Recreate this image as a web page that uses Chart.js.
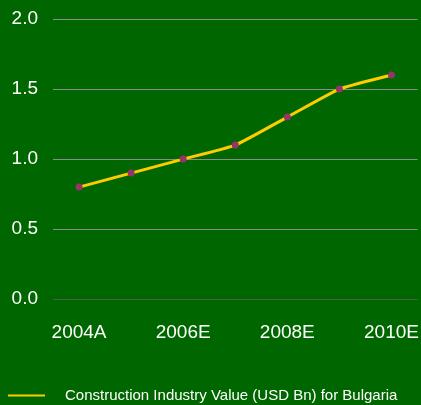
<!DOCTYPE html>
<html>
<head>
<meta charset="utf-8">
<script src="https://cdn.jsdelivr.net/npm/chart.js@4.4.0/dist/chart.umd.min.js"></script>
<style>
html,body{margin:0;padding:0;background:#006600;}
#wrap{width:421px;height:405px;position:relative;}
</style>
</head>
<body>
<div id="wrap"><canvas id="c" width="421" height="405"></canvas></div>
<script>
const categories = ["2004A","2005E","2006E","2007E","2008E","2009E","2010E"];
const values = [0.8, 0.9, 1.0, 1.1, 1.3, 1.5, 1.6];
const seriesLabel = "Construction Industry Value (USD Bn) for Bulgaria";
const yTicks = [0, 0.5, 1.0, 1.5, 2.0];

const FONT = "'Liberation Sans', Arial, sans-serif";

const bgPlugin = {
  id: 'bg',
  beforeDraw(chart) {
    const ctx = chart.ctx;
    ctx.save();
    ctx.fillStyle = '#006600';
    ctx.fillRect(0, 0, chart.width, chart.height);
    ctx.restore();
  }
};

const legendPlugin = {
  id: 'customLegend',
  afterDraw(chart) {
    const ctx = chart.ctx;
    const ds = chart.data.datasets[0];
    const y = chart.height - 9.5;
    ctx.save();
    ctx.strokeStyle = ds.borderColor;
    ctx.lineWidth = 2;
    ctx.beginPath();
    ctx.moveTo(8, y);
    ctx.lineTo(45, y);
    ctx.stroke();
    ctx.fillStyle = '#ffffff';
    ctx.font = "15px " + FONT;
    ctx.textBaseline = 'middle';
    ctx.textAlign = 'left';
    ctx.fillText(ds.label, 65, y);
    ctx.restore();
  }
};

new Chart(document.getElementById('c'), {
  type: 'line',
  data: {
    labels: categories,
    datasets: [{
      label: seriesLabel,
      data: values,
      borderColor: '#ffcc00',
      backgroundColor: '#ffcc00',
      borderWidth: 3,
      tension: 0.15,
      pointRadius: 3.5,
      pointHoverRadius: 3.5,
      pointBackgroundColor: '#993366',
      pointBorderColor: '#993366',
      pointBorderWidth: 0
    }]
  },
  options: {
    responsive: false,
    animation: false,
    devicePixelRatio: 1,
    layout: { padding: { left: 11, right: 3, top: 19, bottom: 58 } },
    plugins: { legend: { display: false }, tooltip: { enabled: false } },
    scales: {
      x: {
        offset: true,
        afterFit(s) { s.paddingLeft = 0; s.paddingRight = 0; },
        grid: { display: true, drawOnChartArea: false, drawTicks: true, tickLength: 19, color: 'rgba(0,0,0,0)' },
        border: { display: false },
        ticks: {
          color: '#ffffff',
          font: { size: 19, family: FONT },
          padding: 3,
          autoSkip: false,
          maxRotation: 0,
          callback: function(v, i) { return i % 2 === 0 ? categories[i] : ''; }
        }
      },
      y: {
        min: 0, max: 2,
        afterBuildTicks(axis) { axis.ticks = yTicks.map(v => ({ value: v })); },
        afterFit(s) { s.width = 42; s.paddingTop = 0; s.paddingBottom = 0; },
        grid: {
          drawTicks: false,
          color: ctx => ctx.tick && ctx.tick.value === 0 ? '#4f5f4f' : '#8c8c8c',
          lineWidth: 1
        },
        border: { display: false },
        ticks: {
          color: '#ffffff',
          font: { size: 19, family: FONT },
          padding: 15,
          callback: v => Number(v).toFixed(1)
        }
      }
    }
  },
  plugins: [bgPlugin, legendPlugin]
});
</script>
</body>
</html>
